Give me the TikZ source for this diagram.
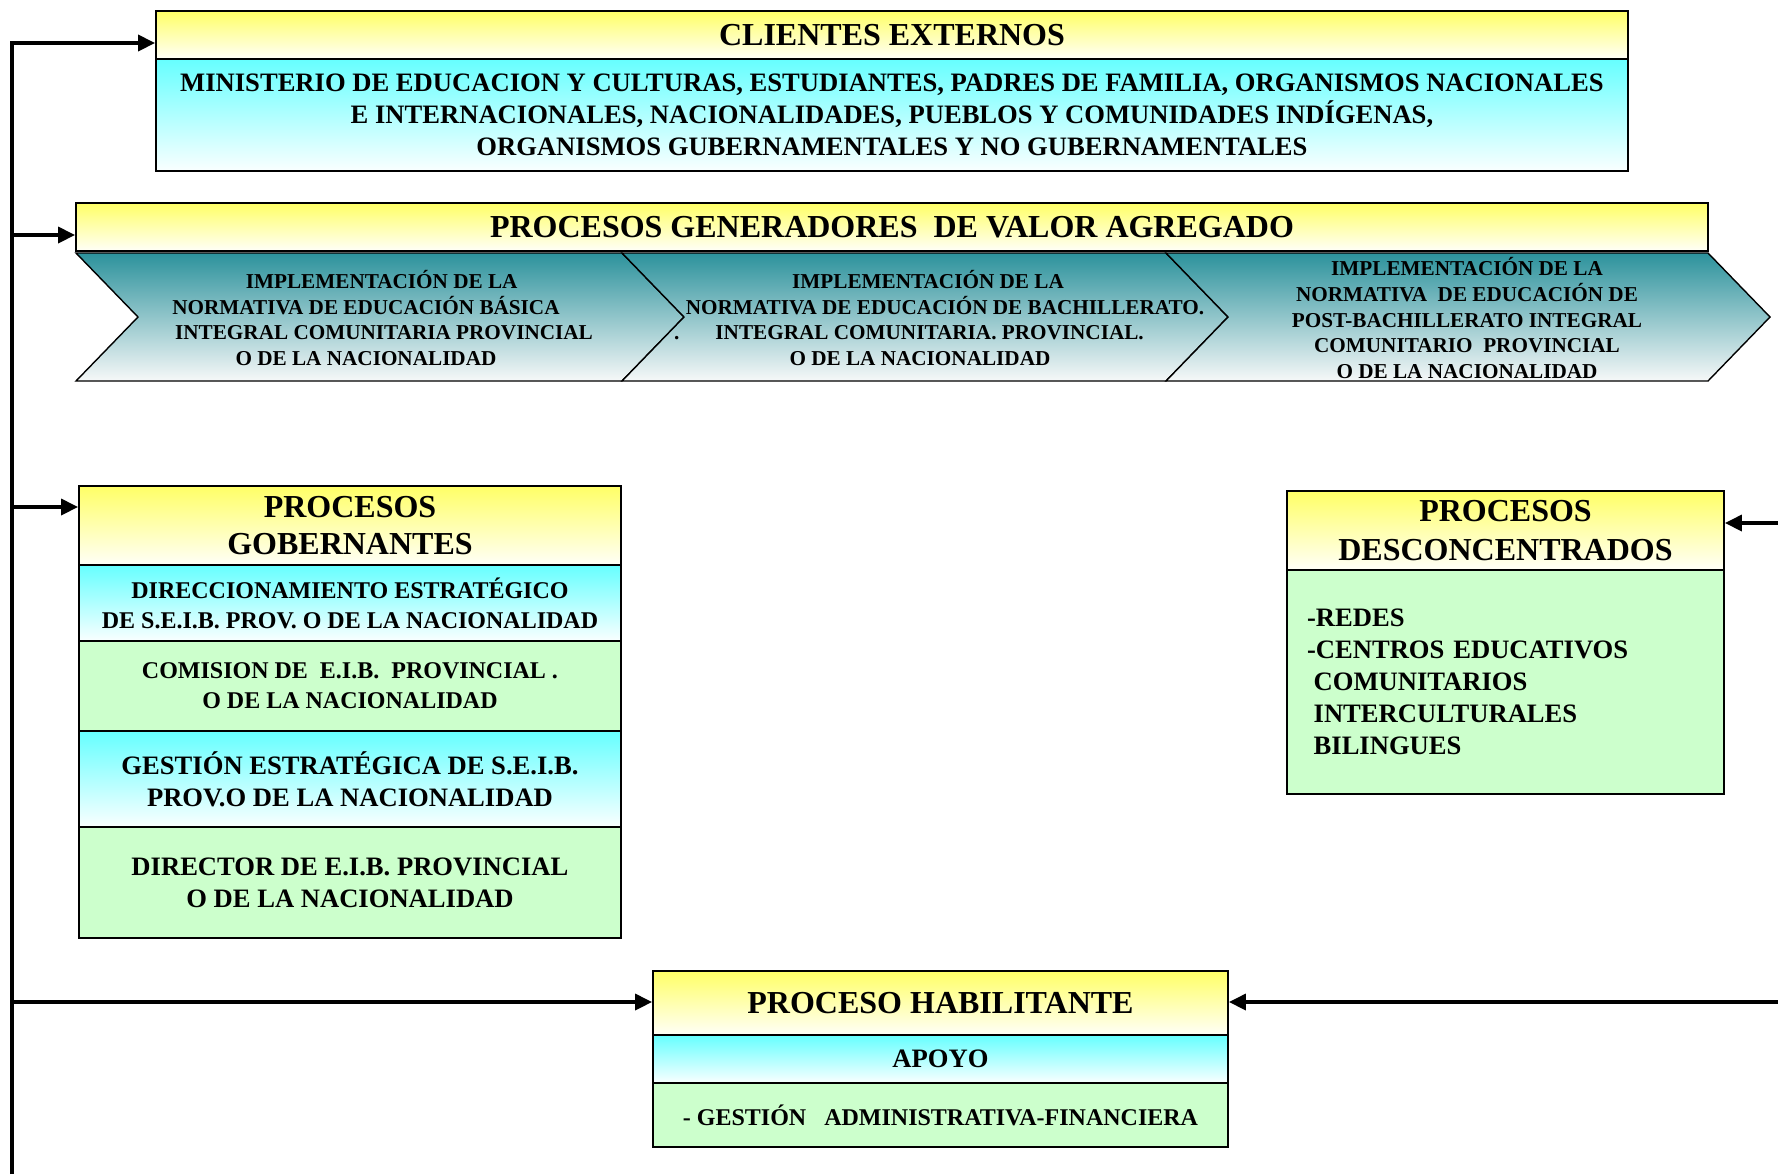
\documentclass[tikz,border=0pt]{standalone}
\usepackage{fontspec}
\setmainfont{Liberation Serif}
\usetikzlibrary{arrows.meta}
\definecolor{ytop}{RGB}{255,255,102}
\definecolor{ybot}{RGB}{255,255,248}
\definecolor{ctop}{RGB}{102,255,255}
\definecolor{cbot}{RGB}{250,255,255}
\definecolor{gfill}{RGB}{204,255,204}
\definecolor{ttop}{RGB}{44,146,156}
\definecolor{tbot}{RGB}{246,248,248}
\begin{document}
\begin{tikzpicture}[x=0.5pt,y=-0.5pt,
  box/.style={draw=black, line width=0.9pt, inner sep=0pt, align=center},
  yhead/.style={box, top color=ytop, bottom color=ybot},
  cpart/.style={box, top color=ctop, bottom color=cbot},
  gpart/.style={box, fill=gfill},
  chev/.style={draw=black, line width=0.7pt, top color=ttop, bottom color=tbot},
  chevtext/.style={align=center, inner sep=0pt, font=\bfseries\fontsize{10.6}{12.95}\selectfont},
  fbig/.style={font=\bfseries\fontsize{16}{18.8}\selectfont},
  fmid/.style={font=\bfseries\fontsize{13.3}{16}\selectfont},
  fsmall/.style={font=\bfseries\fontsize{12}{14.9}\selectfont},
  conn/.style={line width=1.7pt, -{Triangle[length=8.5pt,width=8pt]}}
]
\useasboundingbox (0,0) rectangle (1778,1174);

% CLIENTES EXTERNOS
\node[yhead, fbig, minimum width=736pt, minimum height=24pt] (clihead) at (892,35) {CLIENTES EXTERNOS};
\node[cpart, fmid, minimum width=736pt, minimum height=56pt] (clibody) at (892,115)
  {MINISTERIO DE EDUCACION Y CULTURAS, ESTUDIANTES, PADRES DE FAMILIA, ORGANISMOS NACIONALES\\
   E INTERNACIONALES, NACIONALIDADES, PUEBLOS Y COMUNIDADES INDÍGENAS,\\
   ORGANISMOS GUBERNAMENTALES Y NO GUBERNAMENTALES};

% PROCESOS GENERADORES
\node[yhead, fbig, minimum width=816pt, minimum height=24pt] (genhead) at (892,227) {PROCESOS GENERADORES\ \ DE VALOR AGREGADO};
\path[chev] (76,253) -- (622,253) -- (684,317) -- (622,381) -- (76,381) -- (138,317) -- cycle;
\path[chev] (622,253) -- (1166,253) -- (1228,317) -- (1166,381) -- (622,381) -- (684,317) -- cycle;
\path[chev] (1166,253) -- (1708,253) -- (1770,317) -- (1708,381) -- (1166,381) -- (1228,317) -- cycle;
\node[chevtext] (c1) at (376,318) {\kern5.7pt IMPLEMENTACIÓN DE LA\\NORMATIVA DE EDUCACIÓN BÁSICA\kern10pt\\\kern8pt INTEGRAL COMUNITARIA PROVINCIAL\\O DE LA NACIONALIDAD\kern10pt};
\node[chevtext] (c2) at (928,318) {IMPLEMENTACIÓN DE LA\\\kern17pt NORMATIVA DE EDUCACIÓN DE BACHILLERATO.\\.\hspace{1.7em}INTEGRAL COMUNITARIA. PROVINCIAL.\kern19pt\\O DE LA NACIONALIDAD\kern8pt};
\node[chevtext] (c3) at (1467,318) {IMPLEMENTACIÓN DE LA\\NORMATIVA\ \ DE EDUCACIÓN DE\\POST-BACHILLERATO INTEGRAL\\COMUNITARIO\ \ PROVINCIAL\\O DE LA NACIONALIDAD};

% PROCESOS GOBERNANTES
\node[yhead, font=\bfseries\fontsize{16}{18.5}\selectfont, minimum width=271pt, minimum height=39.5pt] (gobhead) at (350,525.5) {PROCESOS\\GOBERNANTES};
\node[cpart, fsmall, minimum width=271pt, minimum height=38pt] (gob1) at (350,603) {DIRECCIONAMIENTO ESTRATÉGICO\\DE S.E.I.B. PROV. O DE LA NACIONALIDAD};
\node[gpart, fsmall, minimum width=271pt, minimum height=45pt] (gob2) at (350,686) {COMISION DE\ \ E.I.B.\ \ PROVINCIAL .\\O DE LA NACIONALIDAD};
\node[cpart, fmid, minimum width=271pt, minimum height=48pt] (gob3) at (350,779) {GESTIÓN ESTRATÉGICA DE S.E.I.B.\\PROV.O DE LA NACIONALIDAD};
\node[gpart, fmid, minimum width=271pt, minimum height=55.5pt] (gob4) at (350,882.5) {DIRECTOR DE E.I.B. PROVINCIAL\\O DE LA NACIONALIDAD};

% PROCESOS DESCONCENTRADOS
\node[yhead, font=\bfseries\fontsize{16}{19.2}\selectfont, minimum width=218.5pt, minimum height=39.5pt] (deshead) at (1505.5,530.5) {PROCESOS\\DESCONCENTRADOS};
\node[gpart, fmid, minimum height=112pt, text width=198.5pt, inner xsep=10pt, align=left] (desbody) at (1505.5,682)
  {\raisebox{-1.2pt}{-REDES}\\\raisebox{-1.2pt}{-CENTROS EDUCATIVOS}\\\raisebox{-1.2pt}{\hspace*{0.25em}COMUNITARIOS}\\\raisebox{-1.2pt}{\hspace*{0.25em}INTERCULTURALES}\\\raisebox{-1.2pt}{\hspace*{0.25em}BILINGUES}};

% PROCESO HABILITANTE
\node[yhead, fbig, minimum width=287.5pt, minimum height=32pt] (habhead) at (940.5,1003) {PROCESO HABILITANTE};
\node[cpart, fmid, minimum width=287.5pt, minimum height=24pt] (hab1) at (940.5,1059) {APOYO};
\node[gpart, fsmall, minimum width=287.5pt, minimum height=32pt] (hab2) at (940.5,1115) {-\ GESTIÓN\ \ \ ADMINISTRATIVA-FINANCIERA};

% connectors
\coordinate (ltop) at (12,43);
\coordinate (lbot) at (12,1174);
\coordinate (a2) at (12,235);
\coordinate (a3) at (12,507);
\coordinate (a4) at (12,1002);
\coordinate (r1) at (1778,523);
\coordinate (r2) at (1778,1002);
\draw[conn] (lbot) -- (ltop) -- (ltop -| clihead.west);
\draw[conn] (a2) -- (a2 -| genhead.west);
\draw[conn] (a3) -- (a3 -| gobhead.west);
\draw[conn] (a4) -- (a4 -| habhead.west);
\draw[conn] (r1) -- (r1 -| deshead.east);
\draw[conn] (r2) -- (r2 -| habhead.east);
\end{tikzpicture}
\end{document}
